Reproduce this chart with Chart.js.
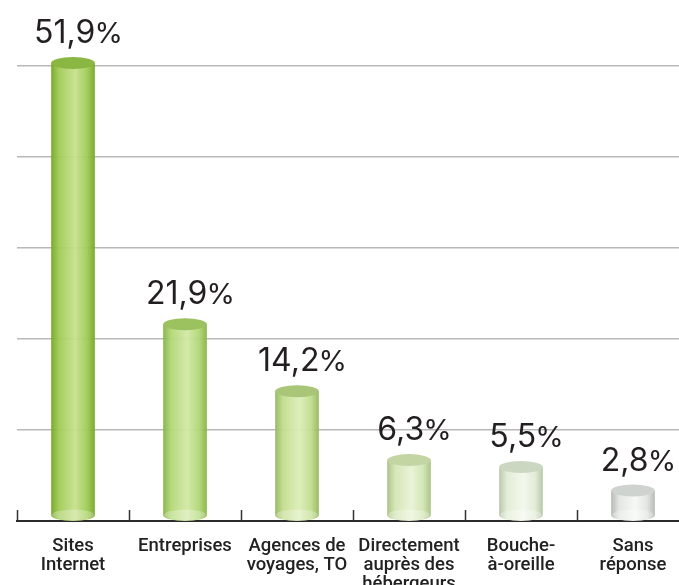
<!DOCTYPE html>
<html>
<head>
<meta charset="utf-8">
<script src="https://cdn.jsdelivr.net/npm/chart.js@4.4.1/dist/chart.umd.min.js"></script>
<style>
    html, body { margin: 0; padding: 0; background: #fff; overflow: hidden; }
    #wrap { position: relative; width: 679px; height: 585px; }
</style>
</head>
<body>
<div id="wrap"><canvas id="shareChart"></canvas></div>
<script>
// Data
const categories = [
    ['Sites', 'Internet'],
    ['Entreprises'],
    ['Agences de', 'voyages, TO'],
    ['Directement', 'auprès des', 'hébergeurs'],
    ['Bouche-', 'à-oreille'],
    ['Sans', 'réponse']
];
const shares = [51.9, 21.9, 14.2, 6.3, 5.5, 2.8];
const gridSteps = [0, 1, 2, 3, 4, 5]; // unlabeled guide lines

// cylinder tones: [edge, mid, highlight, top]
const barTones = [
    ['#74a626', '#a0cb55', '#c6e08e', '#8ab642'],
    ['#86b345', '#b1d775', '#d2e8a6', '#9cc15f'],
    ['#95b760', '#c0dd8c', '#dcedb8', '#a8c578'],
    ['#a8c185', '#d2e5b2', '#e8f2d6', '#c3d5a3'],
    ['#b5c5a5', '#e1ebd5', '#f2f7ec', '#ccd7c1'],
    ['#b2b6b2', '#e1e5e1', '#f5f7f5', '#cfd3cf']
];

const RY = 6;

const fmt = v => v.toFixed(1).replace('.', ',');

const cylinderPlugin = {
    id: 'cylinders',
    beforeDatasetsDraw(chart) {
        // small upward ticks at category boundaries
        const { ctx, scales: { x }, chartArea } = chart;
        ctx.save();
        ctx.strokeStyle = '#333';
        ctx.lineWidth = 1.5;
        for (let i = 0; i < categories.length; i++) {
            const px = Math.round(x.getPixelForValue(i - 0.5)) + 0.5;
            ctx.beginPath();
            ctx.moveTo(px, chartArea.bottom);
            ctx.lineTo(px, chartArea.bottom - 11);
            ctx.stroke();
        }
        ctx.restore();
    },
    afterDatasetsDraw(chart) {
        const { ctx } = chart;
        const meta = chart.getDatasetMeta(0);
        meta.data.forEach((bar, i) => {
            const [edge, mid, hl, top] = barTones[i];
            const w = bar.width, l = bar.x - w / 2, r = bar.x + w / 2;
            const yTop = bar.y, yBase = bar.base;

            const g = ctx.createLinearGradient(l, 0, r, 0);
            g.addColorStop(0, edge);
            g.addColorStop(0.18, mid);
            g.addColorStop(0.55, hl);
            g.addColorStop(0.82, mid);
            g.addColorStop(1, edge);

            ctx.save();
            // body + rounded bottom
            ctx.beginPath();
            ctx.moveTo(l, yTop);
            ctx.lineTo(l, yBase);
            ctx.ellipse(bar.x, yBase, w / 2, RY, 0, Math.PI, 0, true);
            ctx.lineTo(r, yTop);
            ctx.closePath();
            ctx.fillStyle = g;
            ctx.globalAlpha = 0.95;
            ctx.fill();

            // lighter base area
            ctx.beginPath();
            ctx.ellipse(bar.x, yBase, w / 2 - 1, RY - 0.5, 0, 0, Math.PI * 2);
            ctx.fillStyle = 'rgba(255,255,255,0.28)';
            ctx.fill();

            // top cap
            ctx.globalAlpha = 1;
            ctx.beginPath();
            ctx.ellipse(bar.x, yTop, w / 2, RY, 0, 0, Math.PI * 2);
            ctx.fillStyle = top;
            ctx.fill();
            ctx.restore();

            // value label: number + slightly smaller percent sign
            const num = fmt(shares[i]);
            ctx.save();
            ctx.fillStyle = '#231f20';
            ctx.textBaseline = 'alphabetic';
            ctx.font = '400 32px Inter';
            const wNum = ctx.measureText(num).width;
            ctx.font = '400 29px Inter';
            const wPct = ctx.measureText('%').width;
            const x0 = bar.x + 6 - (wNum + wPct) / 2;
            const yText = yTop - RY - 14;
            ctx.font = '400 32px Inter';
            ctx.fillText(num, x0, yText);
            ctx.font = '400 29px Inter';
            ctx.fillText('%', x0 + wNum - 1, yText);
            ctx.restore();
        });
    }
};

const plotTop = 22, plotBottom = 521;
const plotLeft = 17, slotWidth = 112;

new Chart(document.getElementById('shareChart'), {
    type: 'bar',
    data: {
        datasets: [{
            data: shares.map((v, i) => ({ x: i, y: v })),
            backgroundColor: 'rgba(0,0,0,0)',
            borderWidth: 0,
            barPercentage: 0.39,
            categoryPercentage: 1
        }]
    },
    options: {
        responsive: true,
        maintainAspectRatio: false,
        animation: false,
        devicePixelRatio: 1,
        layout: { padding: { left: plotLeft, right: 0, top: plotTop, bottom: 0 } },
        plugins: {
            legend: { display: false },
            tooltip: { enabled: false }
        },
        scales: {
            x: {
                type: 'linear',
                offset: false,
                // the last slot runs past the right edge, as in the original
                min: -0.5,
                max: -0.5 + (679 - plotLeft) / slotWidth,
                afterBuildTicks: s => { s.ticks = categories.map((c, i) => ({ value: i })); },
                grid: { display: false },
                border: { display: true, color: '#2b2b2b', width: 2 },
                ticks: {
                    color: '#222',
                    font: { family: 'Roboto', weight: '500', size: 18.5, lineHeight: 1.03 },
                    padding: 8,
                    maxRotation: 0,
                    autoSkip: false,
                    callback: v => categories[v]
                },
                afterFit: s => { s.height = 585 - plotBottom; s.paddingLeft = 0; s.paddingRight = 0; }
            },
            y: {
                display: false,
                min: -0.69,
                max: (515 - plotTop) / 8.71
            },
            grid: {
                position: 'left',
                min: gridSteps[0],
                max: (plotBottom - plotTop) / 91,
                afterBuildTicks: s => { s.ticks = gridSteps.map(v => ({ value: v })); },
                ticks: { display: false },
                border: { display: false },
                grid: {
                    drawTicks: false,
                    color: c => c.tick && c.tick.value === 0 ? 'rgba(0,0,0,0)' : '#b8b8b8',
                    lineWidth: 1.5
                },
                afterFit: s => { s.width = 0; }
            }
        }
    },
    plugins: [cylinderPlugin]
});
</script>
</body>
</html>
